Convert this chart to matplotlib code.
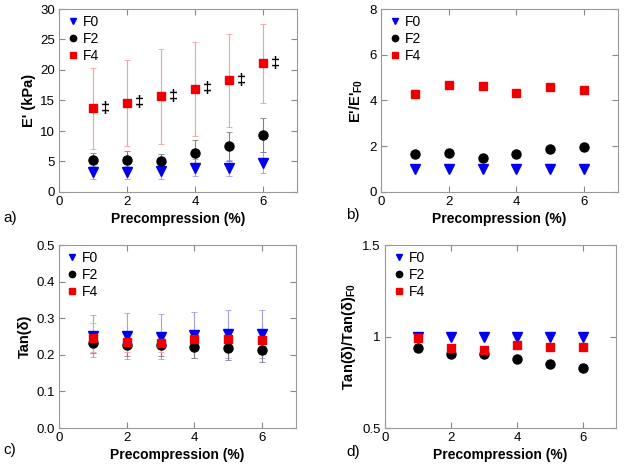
import matplotlib.pyplot as plt
import numpy as np

plt.rcParams['font.family'] = ['Liberation Sans', 'DejaVu Sans']
plt.rcParams['mathtext.fontset'] = 'custom'
plt.rcParams['mathtext.rm'] = 'Liberation Sans'
plt.rcParams['mathtext.bf'] = 'Liberation Sans:bold'

# precompression levels (%)
precomp = [1, 2, 3, 4, 5, 6]
labels = ['F0', 'F2', 'F4']

# a) storage modulus E' (kPa) with std
e_f0 = [3.2, 3.2, 3.4, 4.0, 4.0, 4.8]
e_f0_err = [1.0, 1.0, 1.2, 1.4, 1.3, 1.7]
e_f2 = [5.2, 5.3, 5.0, 6.4, 7.5, 9.4]
e_f2_err = [1.2, 1.5, 1.2, 2.1, 2.4, 2.8]
e_f4 = [13.7, 14.6, 15.7, 16.9, 18.3, 21.1]
e_f4_err = [6.7, 7.1, 7.8, 7.7, 7.6, 6.5]

# b) E' normalised to F0
en_f0 = [1, 1, 1, 1, 1, 1]
en_f2 = [1.65, 1.72, 1.48, 1.65, 1.88, 1.98]
en_f4 = [4.30, 4.67, 4.63, 4.33, 4.58, 4.45]

# c) tan(delta) with std
t_f0 = [0.252, 0.252, 0.250, 0.255, 0.256, 0.256]
t_f0_err = [0.057, 0.063, 0.061, 0.063, 0.066, 0.066]
t_f2 = [0.233, 0.227, 0.226, 0.222, 0.218, 0.212]
t_f2_err = [0.028, 0.030, 0.030, 0.032, 0.033, 0.032]
t_f4 = [0.247, 0.235, 0.232, 0.243, 0.242, 0.241]
t_f4_err = [0.040, 0.026, 0.025, 0.026, 0.026, 0.026]

# d) tan(delta) normalised to F0
tn_f0 = [1, 1, 1, 1, 1, 1]
tn_f2 = [0.935, 0.905, 0.907, 0.875, 0.852, 0.830]
tn_f4 = [0.990, 0.935, 0.927, 0.955, 0.945, 0.940]

styles = [dict(marker='v', color='#0000ee', ms=6.5),
          dict(marker='o', color='black', ms=6.5),
          dict(marker='s', color='#ee0000', ms=5.5)]
err_colors = ['#a0a0ee', '#808080', '#f4a0a0']

fig = plt.figure(figsize=(6.24, 4.65), dpi=100)
W, H = 624, 465


def make_ax(l, t, r, b):
    return fig.add_axes([l / W, 1 - b / H, (r - l) / W, (b - t) / H])


def style_ax(ax, ylim, yticks, ylabel, leg_xy):
    ax.set_xlim(0, 7)
    ax.set_xticks([0, 2, 4, 6])
    ax.set_ylim(*ylim)
    ax.set_yticks(yticks)
    ax.tick_params(direction='in', top=True, right=True, labelsize=9.5,
                   color='#888888', length=4, pad=3)
    for s in ax.spines.values():
        s.set_color('#999999')
    ax.set_xlabel('Precompression (%)', fontsize=10, fontweight='bold', labelpad=3)
    ax.set_ylabel(ylabel, fontsize=10.5, fontweight='bold', labelpad=3)
    ax.legend(loc='upper left', bbox_to_anchor=leg_xy, frameon=False, fontsize=10,
              handletextpad=0.2, borderaxespad=0, borderpad=0, labelspacing=0.2,
              handlelength=1.0, markerscale=0.7)


def draw(ax, series, errs=None):
    for i, ys in enumerate(series):
        if errs is not None:
            ax.errorbar(precomp, ys, yerr=errs[i], fmt='none', ecolor=err_colors[i],
                        elinewidth=0.8, capsize=2.5, capthick=0.6, zorder=1)
        ax.plot(precomp, ys, ls='none', label=labels[i], zorder=3, **styles[i])


ax_a = make_ax(59, 9, 297, 192)
draw(ax_a, [e_f0, e_f2, e_f4], [e_f0_err, e_f2_err, e_f4_err])
for x, y in zip(precomp, e_f4):
    ax_a.text(x + 0.37, y, '\u2021', fontsize=11.5, fontweight='bold',
              ha='center', va='center')
style_ax(ax_a, (0, 30), [0, 5, 10, 15, 20, 25, 30], "E' (kPa)", (0.031, 0.967))

ax_b = make_ax(381, 9, 618, 192)
draw(ax_b, [en_f0, en_f2, en_f4])
style_ax(ax_b, (0, 8), [0, 2, 4, 6, 8], r"E'/E'$_\mathbf{F0}$", (0.031, 0.967))

ax_c = make_ax(59, 245, 296, 428)
draw(ax_c, [t_f0, t_f2, t_f4], [t_f0_err, t_f2_err, t_f4_err])
style_ax(ax_c, (0, 0.5), [0, 0.1, 0.2, 0.3, 0.4, 0.5], 'Tan(\u03b4)', (0.025, 0.967))

ax_d = make_ax(385, 245, 616, 428)
draw(ax_d, [tn_f0, tn_f2, tn_f4])
style_ax(ax_d, (0.5, 1.5), [0.5, 1, 1.5], r'Tan(δ)/Tan(δ)$_\mathbf{F0}$', (0.032, 0.967))
ax_d.set_yticklabels(['0.5', '1', '1.5'])

for txt, x, y in [('a)', 3, 218), ('b)', 346, 215), ('c)', 3, 450), ('d)', 346, 452)]:
    fig.text(x / W, 1 - y / H, txt, fontsize=11, va='center', ha='left')

fig.savefig('out.png', dpi=100)
